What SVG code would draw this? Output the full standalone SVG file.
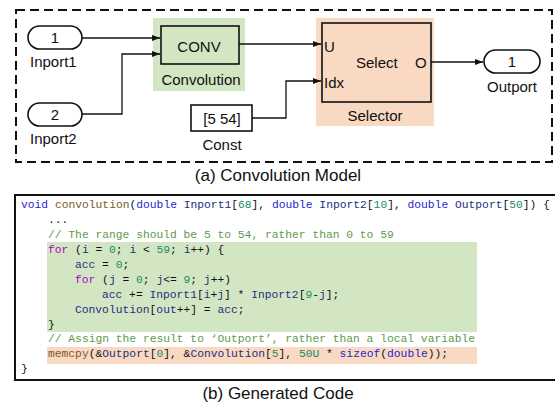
<svg xmlns="http://www.w3.org/2000/svg" width="555" height="404" viewBox="0 0 555 404">
  <style>
    .lbl { font-family: "Liberation Sans", Arial, sans-serif; font-size: 15px; fill: #111; }
    .cap { font-size: 17px; }
    .mid { text-anchor: middle; }
    .blk { fill: none; stroke: #111; stroke-width: 1.6; }
    .wire { fill: none; stroke: #111; stroke-width: 1.3; }
    .code { font-family: "Liberation Mono", "DejaVu Sans Mono", monospace; font-size: 11.3px; fill: #111; white-space: pre; }
    .kw { fill: #1f1fd0; }
    .ctl { fill: #b000c8; }
    .fn { fill: #7a5a28; }
    .id { fill: #1c2f80; }
    .num { fill: #1b8a68; }
    .cm { fill: #5e9a4c; }
  </style>
  <defs>
    <marker id="arrow" viewBox="0 0 8 6" refX="8" refY="3" markerWidth="8" markerHeight="6" markerUnits="userSpaceOnUse" orient="auto">
      <path d="M0,0 L8,3 L0,6 Z" fill="#111"/>
    </marker>
  </defs>

  <!-- model frame -->
  <rect x="16" y="10" width="536" height="152" fill="none" stroke="#111" stroke-width="2" stroke-dasharray="9,5"/>

  <!-- highlight backgrounds -->
  <rect x="153" y="18" width="92" height="73" fill="#d3e6c4"/>
  <rect x="316" y="18" width="118" height="108" fill="#f9d9c2"/>

  <g id="inport1">
    <rect class="blk" x="28" y="26" width="54" height="23" rx="11.5"/>
    <text class="lbl mid" x="55" y="43">1</text>
    <text class="lbl" x="30" y="67">Inport1</text>
  </g>

  <g id="inport2">
    <rect class="blk" x="28" y="103" width="54" height="23" rx="11.5"/>
    <text class="lbl mid" x="55" y="120">2</text>
    <text class="lbl" x="30" y="144">Inport2</text>
  </g>

  <g id="convolution">
    <rect class="blk" x="161" y="26" width="78" height="38"/>
    <text class="lbl mid" x="199" y="52">CONV</text>
    <text class="lbl mid" x="201" y="85">Convolution</text>
  </g>

  <g id="const">
    <rect class="blk" x="191" y="105" width="61" height="26"/>
    <text class="lbl mid" x="222" y="124">[5 54]</text>
    <text class="lbl mid" x="222" y="150">Const</text>
  </g>

  <g id="selector">
    <rect class="blk" x="322" y="23" width="109" height="79"/>
    <text class="lbl" x="324" y="52">U</text>
    <text class="lbl" x="324" y="88">Idx</text>
    <text class="lbl" x="356" y="68">Select</text>
    <text class="lbl" x="415" y="68">O</text>
    <text class="lbl mid" x="375" y="121">Selector</text>
  </g>

  <g id="outport">
    <rect class="blk" x="484" y="50" width="56" height="23" rx="11.5"/>
    <text class="lbl mid" x="512" y="67">1</text>
    <text class="lbl mid" x="512" y="92">Outport</text>
  </g>

  <g id="connectors">
    <path class="wire" d="M82,38 H160" marker-end="url(#arrow)"/>
    <path class="wire" d="M82,114 H122 V54 H160" marker-end="url(#arrow)"/>
    <path class="wire" d="M239,44 H321" marker-end="url(#arrow)"/>
    <path class="wire" d="M252,118 H286 V81 H321" marker-end="url(#arrow)"/>
    <path class="wire" d="M431,62 H483" marker-end="url(#arrow)"/>
  </g>

  <text class="lbl cap mid" x="278" y="181">(a) Convolution Model</text>

  <!-- code listing -->
  <rect x="15" y="195" width="545" height="185" fill="none" stroke="#111" stroke-width="2"/>
  <rect x="47" y="242" width="430" height="90" fill="#d3e6c4"/>
  <rect x="47" y="347" width="430" height="17" fill="#f9d9c2"/>

  <g id="code">
    <text class="code" x="21" y="208"><tspan class="kw">void</tspan> <tspan class="fn">convolution</tspan>(<tspan class="kw">double</tspan> <tspan class="id">Inport1</tspan>[<tspan class="num">68</tspan>], <tspan class="kw">double</tspan> <tspan class="id">Inport2</tspan>[<tspan class="num">10</tspan>], <tspan class="kw">double</tspan> <tspan class="id">Outport</tspan>[<tspan class="num">50</tspan>]) {</text>
    <text class="code" x="48" y="223">...</text>
    <text class="code cm" x="48" y="238">// The range should be 5 to 54, rather than 0 to 59</text>
    <text class="code" x="48" y="253"><tspan class="ctl">for</tspan> (<tspan class="id">i</tspan> = <tspan class="num">0</tspan>; <tspan class="id">i</tspan> &lt; <tspan class="num">59</tspan>; <tspan class="id">i</tspan>++) {</text>
    <text class="code" x="75" y="268"><tspan class="id">acc</tspan> = <tspan class="num">0</tspan>;</text>
    <text class="code" x="75" y="283"><tspan class="ctl">for</tspan> (<tspan class="id">j</tspan> = <tspan class="num">0</tspan>; <tspan class="id">j</tspan>&lt;= <tspan class="num">9</tspan>; <tspan class="id">j</tspan>++)</text>
    <text class="code" x="102" y="298"><tspan class="id">acc</tspan> += <tspan class="id">Inport1</tspan>[<tspan class="id">i</tspan>+<tspan class="id">j</tspan>] * <tspan class="id">Inport2</tspan>[<tspan class="num">9</tspan>-<tspan class="id">j</tspan>];</text>
    <text class="code" x="75" y="313"><tspan class="id">Convolution</tspan>[<tspan class="id">out</tspan>++] = <tspan class="id">acc</tspan>;</text>
    <text class="code" x="48" y="328">}</text>
    <text class="code cm" x="48" y="342">// Assign the result to ‘Outport’, rather than a local variable</text>
    <text class="code" x="48" y="357"><tspan class="fn">memcpy</tspan>(&amp;<tspan class="id">Outport</tspan>[<tspan class="num">0</tspan>], &amp;<tspan class="id">Convolution</tspan>[<tspan class="num">5</tspan>], <tspan class="num">50U</tspan> * <tspan class="kw">sizeof</tspan>(<tspan class="kw">double</tspan>));</text>
    <text class="code" x="21" y="372">}</text>
  </g>

  <text class="lbl cap mid" x="278" y="399">(b) Generated Code</text>
</svg>
